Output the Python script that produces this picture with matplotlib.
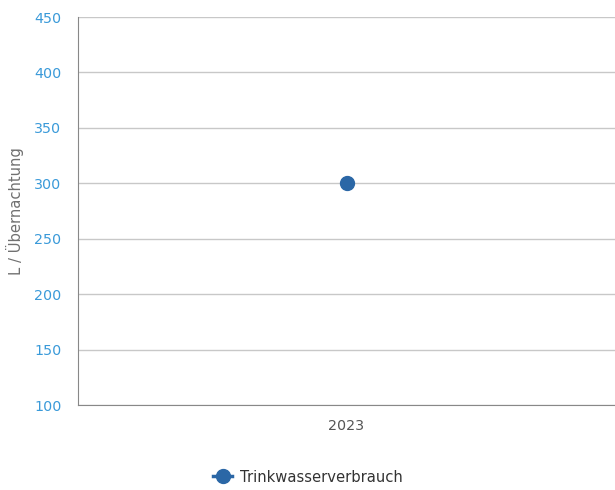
import matplotlib
matplotlib.use("Agg")
import matplotlib.pyplot as plt
from matplotlib.lines import Line2D

categories = ["2023"]
values = [300]
series_name = "Trinkwasserverbrauch"
y_ticks = [100, 150, 200, 250, 300, 350, 400, 450]

plt.rcParams['font.family'] = ['DejaVu Sans']

fig = plt.figure(figsize=(6.15, 4.9), dpi=100)
ax = fig.add_axes([78/615, 1 - 405/490, 1 - 78/615, (405 - 17)/490])

color = '#2b67a6'
x = list(range(len(categories)))
ax.plot(x, values, marker='o', linestyle='-', color=color, markersize=10, zorder=3)

ax.set_xlim(-0.5, len(categories) - 0.5)
ax.set_ylim(100, 450)
ax.set_yticks(y_ticks)
ax.set_xticks(x)
ax.set_xticklabels(categories)
ax.grid(axis='y', color='#c8c8c8', linewidth=1)
ax.set_axisbelow(True)
for s in ['top', 'right']:
    ax.spines[s].set_visible(False)
ax.spines['left'].set_color('#888888')
ax.spines['bottom'].set_color('#888888')
ax.tick_params(axis='y', length=0, pad=12, labelsize=10.3, labelcolor='#3a9ad9')
ax.tick_params(axis='x', length=0, pad=10, labelsize=10.3, labelcolor='#555555')
ax.set_ylabel('L / Übernachtung', fontsize=10.6, color='#707070')
ax.yaxis.set_label_coords(-0.100, 0.5)

handle = Line2D([0], [0], color=color, marker='o', markersize=10, linewidth=2.5)
fig.legend([handle], [series_name], loc='center', bbox_to_anchor=(308/615, 1 - 477/490),
           frameon=False, fontsize=10.6, handlelength=1.3, handletextpad=0.55,
           labelcolor='#333333')

fig.savefig('out.png', dpi=100)
